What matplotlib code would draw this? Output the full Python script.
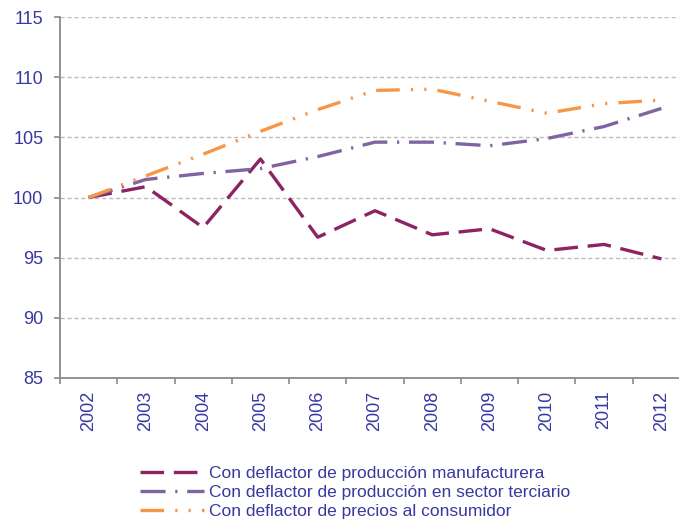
import numpy as np
import matplotlib
matplotlib.use("Agg")
import matplotlib.pyplot as plt

# values (index, 2002 = 100)
years = ["2002", "2003", "2004", "2005", "2006", "2007", "2008", "2009", "2010", "2011", "2012"]
manufacturera = [100.0, 100.9, 97.5, 103.2, 96.7, 98.9, 96.9, 97.4, 95.6, 96.1, 94.9]
terciario = [100.0, 101.5, 102.0, 102.4, 103.4, 104.6, 104.6, 104.3, 104.9, 105.9, 107.4]
consumidor = [100.0, 101.8, 103.6, 105.5, 107.3, 108.9, 109.0, 108.0, 107.0, 107.8, 108.1]

labels = ["Con deflactor de producción manufacturera",
          "Con deflactor de producción en sector terciario",
          "Con deflactor de precios al consumidor"]

text_color = "#3838A0"
plt.rcParams["font.family"] = ["Liberation Sans", "DejaVu Sans"]
plt.rcParams["lines.scale_dashes"] = False

fig = plt.figure(figsize=(6.79, 5.25), dpi=100)
ax = fig.add_axes([60 / 679, 1 - 378 / 525, 630 / 679, (378 - 17) / 525])

x = np.arange(len(years))
ax.plot(x, manufacturera, color="#8C2462", lw=2.4, dashes=(17, 7), label=labels[0])
ax.plot(x, terciario, color="#8064A2", lw=2.4, dashes=(18, 7, 1.6, 7), label=labels[1])
ax.plot(x, consumidor, color="#F79646", lw=2.4, dashes=(17, 8, 1.6, 8, 1.6, 8), label=labels[2])

ax.set_ylim(85, 115)
ax.set_yticks(np.arange(85, 116, 5))
ax.set_xlim(-0.5, len(years) - 0.5)
ax.set_xticks(x)
ax.set_xticklabels(years, rotation=90)
ax.set_xticks(np.arange(-0.5, len(years), 1.0), minor=True)

ax.grid(axis="y", color="#BDBDBD", lw=1.0, dashes=(3, 2))
ax.set_axisbelow(True)
for s in ["top", "right"]:
    ax.spines[s].set_visible(False)
for s in ["left", "bottom"]:
    ax.spines[s].set_color("#8A8A8A")
    ax.spines[s].set_linewidth(1.3)

ax.tick_params(axis="y", colors="#8A8A8A", labelcolor=text_color, labelsize=13,
               length=4, width=1.2, pad=8)
ax.tick_params(axis="x", which="major", length=0, labelcolor=text_color, labelsize=13, pad=9)
ax.tick_params(axis="x", which="minor", colors="#8A8A8A", length=4, width=1.2)

fig.legend(loc="upper left", bbox_to_anchor=(140 / 679, 1 - 466 / 525), frameon=False,
           fontsize=12.5, labelcolor=text_color, handlelength=3.7, handletextpad=0.3,
           labelspacing=0.22, borderaxespad=0, borderpad=0)

fig.savefig("out.png", dpi=100)
